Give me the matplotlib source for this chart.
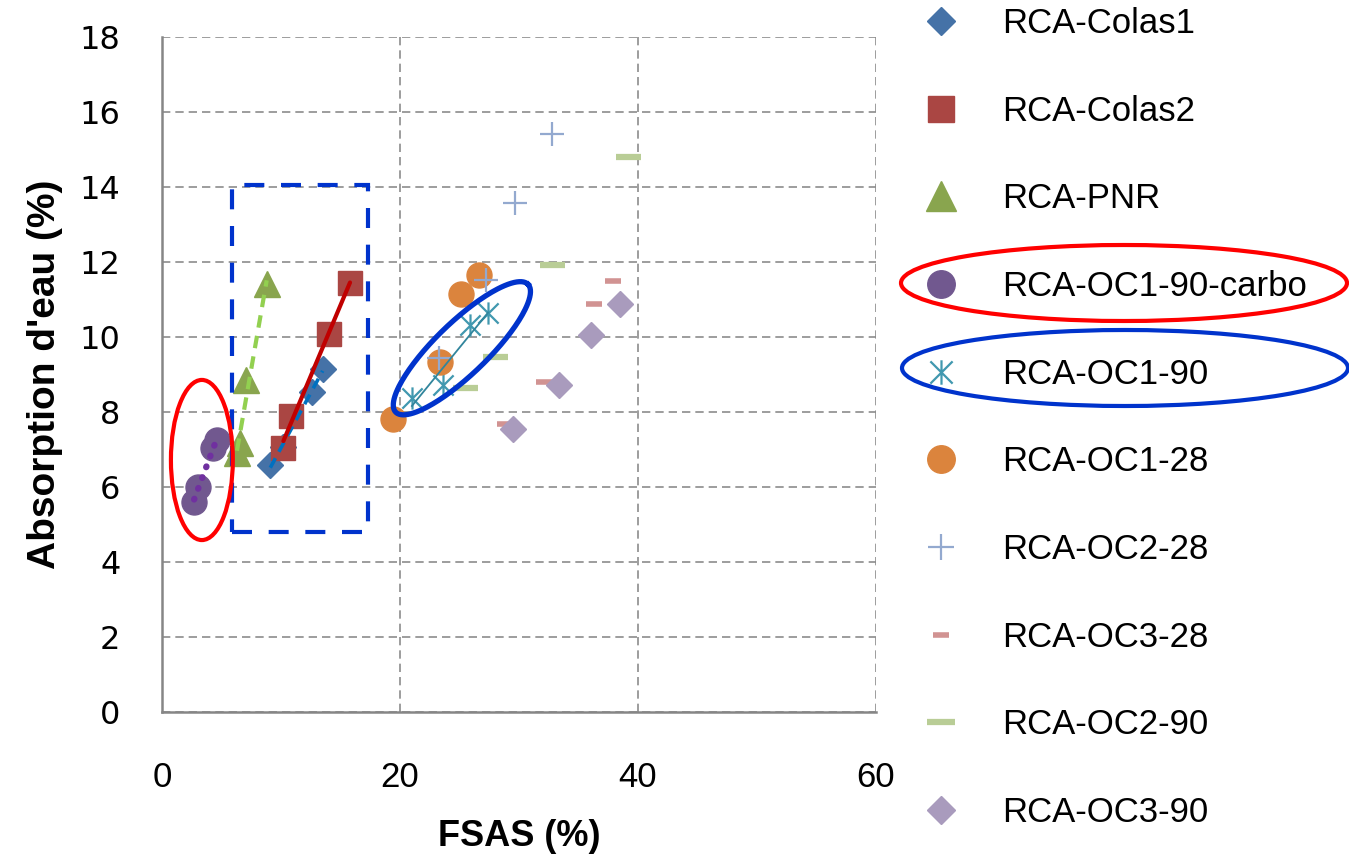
#!/usr/bin/env python

import numpy as np
import matplotlib
matplotlib.use("Agg")
import matplotlib.pyplot as plt
from matplotlib import font_manager
from matplotlib.path import Path
from matplotlib.patches import Ellipse, Rectangle

# data: FSAS (%) vs water absorption (%)
colas1_x = [9.1, 10.2, 12.6, 13.5]
colas1_y = [6.59, 7.07, 8.53, 9.15]
colas2_x = [10.2, 10.8, 14.0, 15.8]
colas2_y = [7.04, 7.89, 10.08, 11.44]
pnr_x = [6.3, 6.55, 7.1, 8.8]
pnr_y = [6.9, 7.17, 8.85, 11.4]
carbo_x = [2.7, 3.0, 4.3, 4.6]
carbo_y = [5.6, 6.0, 7.05, 7.25]
oc1_90_x = [21.0, 23.6, 25.9, 27.4]
oc1_90_y = [8.37, 8.72, 10.32, 10.64]
oc1_28_x = [19.4, 23.4, 25.1, 26.6]
oc1_28_y = [7.8, 9.33, 11.15, 11.65]
oc2_28_x = [23.3, 27.2, 29.7, 32.8]
oc2_28_y = [9.44, 11.52, 13.57, 15.4]
oc3_28_x = [28.8, 32.1, 36.3, 37.9]
oc3_28_y = [7.68, 8.8, 10.88, 11.49]
oc2_90_x = [25.5, 28.0, 32.8, 39.2]
oc2_90_y = [8.64, 9.47, 11.92, 14.8]
oc3_90_x = [29.5, 33.4, 36.05, 38.5]
oc3_90_y = [7.55, 8.72, 10.05, 10.88]

x_ticks = [0, 20, 40, 60]
y_ticks = list(range(0, 19, 2))


def pick_font(*names):
    available = {f.name for f in font_manager.fontManager.ttflist}
    for n in names:
        if n in available:
            return n
    return "DejaVu Sans"


narrow = pick_font("Liberation Sans Narrow", "Liberation Sans")
regular = pick_font("Liberation Sans")

# Excel-like "star" marker: X with a vertical bar
star = Path([(-1, -1), (1, 1), (-1, 1), (1, -1), (0, -1.1), (0, 1.1)],
            [Path.MOVETO, Path.LINETO] * 3)

W, H = 1349, 863
fig = plt.figure(figsize=(W / 100, H / 100), dpi=100)
ax = fig.add_axes([162 / W, 1 - 712 / H, (876 - 162) / W, (712 - 37) / H])

series = [
    ("RCA-Colas1", colas1_x, colas1_y, dict(marker="D", ms=13, color="#4572A7")),
    ("RCA-Colas2", colas2_x, colas2_y, dict(marker="s", ms=17, color="#AA4643")),
    ("RCA-PNR", pnr_x, pnr_y, dict(marker="^", ms=19, color="#89A54E")),
    ("RCA-OC1-90-carbo", carbo_x, carbo_y, dict(marker="o", ms=18, color="#71588F")),
    ("RCA-OC1-90", oc1_90_x, oc1_90_y,
     dict(marker=star, ms=16, color="#4198AF", mfc="none", mew=1.6)),
    ("RCA-OC1-28", oc1_28_x, oc1_28_y, dict(marker="o", ms=18, color="#DB843D")),
    ("RCA-OC2-28", oc2_28_x, oc2_28_y,
     dict(marker="+", ms=17, color="#93A9CF", mew=1.6)),
    ("RCA-OC3-28", oc3_28_x, oc3_28_y,
     dict(marker="_", ms=11, color="#D19392", mew=4)),
    ("RCA-OC2-90", oc2_90_x, oc2_90_y,
     dict(marker="_", ms=18, color="#B9CD96", mew=4.5)),
    ("RCA-OC3-90", oc3_90_x, oc3_90_y, dict(marker="D", ms=13, color="#A99BBD")),
]

for label, xs, ys, style in series:
    ax.plot(xs, ys, linestyle="none", label=label, zorder=3, **style)


def trendline(xs, ys, **kwargs):
    """Linear least squares trend over the range of the series."""
    slope, icpt = np.polyfit(xs, ys, 1)
    xr = np.array([min(xs), max(xs)])
    ax.plot(xr, slope * xr + icpt, zorder=4, **kwargs)


trendline(colas1_x, colas1_y, color="#0070C0", lw=2.6, ls=(0, (3, 2)))
trendline(colas2_x, colas2_y, color="#C00000", lw=3, solid_capstyle="round")
trendline(pnr_x, pnr_y, color="#92D050", lw=3, ls=(0, (3, 2)))
trendline(carbo_x, carbo_y, color="#7030A0", lw=4.6, ls=(0, (0.1, 1.7)),
          dash_capstyle="round")
trendline(oc1_90_x, oc1_90_y, color="#31859C", lw=1.3)

# axes styling
ax.set_xlim(0, 60)
ax.set_ylim(0, 18)
ax.set_xticks(x_ticks)
ax.set_yticks(y_ticks)
ax.grid(True, color="#8C8C8C", ls=(0, (5, 3)), lw=1.2)
ax.set_axisbelow(True)
for side in ("top", "right"):
    ax.spines[side].set_visible(False)
for side in ("left", "bottom"):
    ax.spines[side].set_color("#868686")
    ax.spines[side].set_linewidth(1.8)
ax.tick_params(length=0)
ax.tick_params(axis="x", pad=35, labelsize=25)
ax.tick_params(axis="y", pad=30, labelsize=23)
for t in ax.get_xticklabels():
    t.set_fontfamily(narrow)
for t in ax.get_yticklabels():
    t.set_fontfamily("DejaVu Sans")

ax.set_xlabel("FSAS (%)", fontsize=26, fontweight="bold", family=narrow, labelpad=18)
ax.set_ylabel("Absorption d'eau (%)", fontsize=28, fontweight="bold", family=narrow,
              labelpad=12)

# highlight shapes drawn on the chart
ax.add_patch(Rectangle((5.9, 4.8), 11.4, 9.25, fill=False, edgecolor="#0033CC",
                       lw=3, ls=(0, (4.8, 4)), zorder=5, clip_on=False))
ax.add_patch(Ellipse((3.35, 6.72), 5.2, 4.27, fill=False, edgecolor="#FF0000",
                     lw=3, zorder=5, clip_on=False))

# tilted ellipse: built in pixel units, then mapped back to data units
sx = (876 - 162) / 60.0
sy = (712 - 37) / 18.0
t = np.linspace(0, 2 * np.pi, 200)
ang = np.deg2rad(44)
a_px, b_px = 92, 26
ex = 25.2 + (a_px * np.cos(t) * np.cos(ang) - b_px * np.sin(t) * np.sin(ang)) / sx
ey = 9.7 + (a_px * np.cos(t) * np.sin(ang) + b_px * np.sin(t) * np.cos(ang)) / sy
ax.plot(ex, ey, color="#0033CC", lw=3.8, zorder=5, clip_on=False)

# legend on the right
leg = fig.legend(loc="upper left", bbox_to_anchor=(907 / W, 1 - 7 / H),
                 frameon=False, prop={"family": regular, "size": 25},
                 handlelength=1.95, handletextpad=0.8, labelspacing=1.575,
                 borderpad=0, borderaxespad=0, numpoints=1, markerscale=1.1)

# ellipses around two legend entries
fig.add_artist(Ellipse((1124 / W, 1 - 283 / H), 446 / W, 76 / H,
                       transform=fig.transFigure, fill=False,
                       edgecolor="#FF0000", lw=3))
fig.add_artist(Ellipse((1125 / W, 1 - 368 / H), 446 / W, 76 / H,
                       transform=fig.transFigure, fill=False,
                       edgecolor="#0033CC", lw=3))

fig.savefig("out.png", dpi=100)
